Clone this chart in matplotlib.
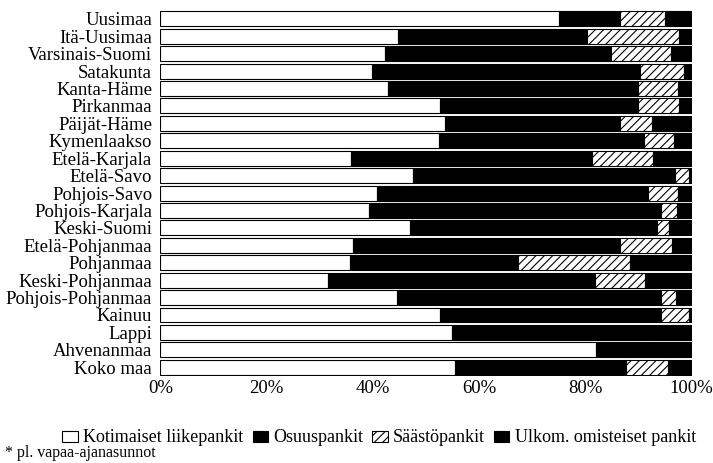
import numpy as np
import matplotlib.pyplot as plt
from matplotlib.patches import Patch

plt.rcParams['font.family'] = ['Liberation Serif', 'DejaVu Serif']
plt.rcParams['hatch.linewidth'] = 0.8

regions = ['Uusimaa', 'Itä-Uusimaa', 'Varsinais-Suomi', 'Satakunta', 'Kanta-Häme',
           'Pirkanmaa', 'Päijät-Häme', 'Kymenlaakso', 'Etelä-Karjala', 'Etelä-Savo',
           'Pohjois-Savo', 'Pohjois-Karjala', 'Keski-Suomi', 'Etelä-Pohjanmaa',
           'Pohjanmaa', 'Keski-Pohjanmaa', 'Pohjois-Pohjanmaa', 'Kainuu', 'Lappi',
           'Ahvenanmaa', 'Koko maa']

# shares in percent
kotimaiset = [75.0, 44.8, 42.2, 39.8, 42.9, 52.7, 53.5, 52.5, 35.8, 47.5,
              40.7, 39.2, 46.9, 36.2, 35.6, 31.5, 44.6, 52.7, 54.8, 82.0, 55.5]
osuus = [11.6, 35.5, 42.6, 50.4, 47.1, 37.3, 33.1, 38.5, 45.4, 49.3,
         51.0, 55.1, 46.5, 50.4, 31.7, 50.3, 49.7, 41.6, 37.9, 17.0, 32.1]
saasto = [8.3, 17.3, 11.3, 8.3, 7.4, 7.7, 5.9, 5.6, 11.5, 2.8,
          5.7, 2.9, 2.3, 9.7, 21.1, 9.5, 2.7, 5.3, 0.3, 0.0, 7.9]
ulkom = [100 - a - b - c for a, b, c in zip(kotimaiset, osuus, saasto)]

series = [kotimaiset, osuus, saasto, ulkom]
names = ['Kotimaiset liikepankit', 'Osuuspankit', 'Säästöpankit', 'Ulkom. omisteiset pankit']
faces = ['white', 'black', 'white', 'black']
hatches = [None, None, '////', None]

fig = plt.figure(figsize=(7.13, 4.63), dpi=100)
ax = fig.add_axes([0.225, 0.188, 0.745, 0.79])

y = np.arange(len(regions))
left = np.zeros(len(regions))
for vals, fc, h in zip(series, faces, hatches):
    vals = np.array(vals)
    ax.barh(y, vals, left=left, height=0.86, color=fc, edgecolor='black',
            linewidth=0.8, hatch=h)
    left += vals

ax.set_xlim(0, 100)
ax.set_ylim(len(regions) - 0.5, -0.5)
ax.set_yticks(y)
ax.set_yticklabels(regions, fontsize=13.5)
ax.set_xticks(np.arange(0, 101, 20))
ax.set_xticklabels([f'{v}%' for v in range(0, 101, 20)], fontsize=13.5)
ax.tick_params(length=0, pad=6)
ax.tick_params(axis='x', pad=3)
for s in ax.spines.values():
    s.set_visible(False)

handles = [Patch(facecolor=fc, edgecolor='black', hatch=h, linewidth=0.8)
           for fc, h in zip(faces, hatches)]
fig.legend(handles, names, loc='center', bbox_to_anchor=(0.532, 0.054), ncol=4,
           frameon=False, fontsize=13, handlelength=0.85, handleheight=0.55,
           handletextpad=0.3, columnspacing=0.5)

fig.text(0.007, 0.004, '* pl. vapaa-ajanasunnot', fontsize=11.5, va='bottom')

fig.savefig('out.png', dpi=100)
